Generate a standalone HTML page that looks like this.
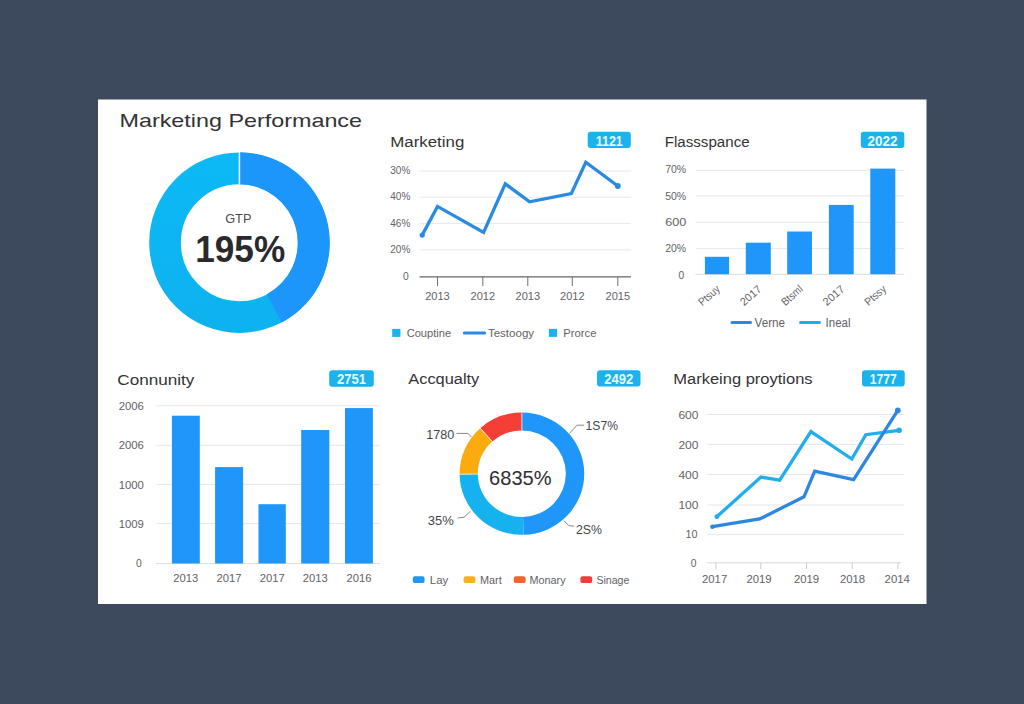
<!DOCTYPE html>
<html><head><meta charset="utf-8"><title>Marketing Performance</title>
<style>
html,body{margin:0;padding:0;background:#3d4a5e;}
body{width:1024px;height:704px;overflow:hidden;position:relative;font-family:"Liberation Sans",sans-serif;}
svg{position:absolute;left:0;top:0;display:block}
text{font-family:"Liberation Sans",sans-serif;}
</style></head><body>
<svg width="1024" height="704" viewBox="0 0 1024 704">
<defs>
<linearGradient id="lb" x1="0" y1="0" x2="0" y2="1"><stop offset="0" stop-color="#0cb9f5"/><stop offset="1" stop-color="#0eb2ef"/></linearGradient>
</defs>
<rect width="1024" height="704" fill="#3d4a5e"/>
<rect x="98" y="99.5" width="828.5" height="504.5" fill="#ffffff"/>

<text x="119.5" y="127" font-size="19" fill="#333336" text-anchor="start" font-weight="normal" textLength="242.5" lengthAdjust="spacingAndGlyphs">Marketing Performance</text>
<circle cx="239.4" cy="242.7" r="74.35" fill="none" stroke="url(#lb)" stroke-width="31.700000000000003"/>
<path d="M239.40 152.35A90.35000000000001 90.35000000000001 0 0 1 281.82 322.47L266.79 294.22A58.35 58.35 0 0 0 239.40 184.35Z" fill="#1d96fb"/>
<rect x="238.6" y="152.0" width="1.6" height="32.7" fill="#d9f6ff"/>
<text x="225.2" y="222.5" font-size="12.5" fill="#4a4a4e" text-anchor="start" font-weight="normal" textLength="26.2" lengthAdjust="spacingAndGlyphs">GTP</text>
<text x="195.2" y="261.6" font-size="36" fill="#2a2a2e" text-anchor="start" font-weight="bold" textLength="90" lengthAdjust="spacingAndGlyphs">195%</text>
<text x="390.3" y="146.8" font-size="14" fill="#333336" text-anchor="start" font-weight="normal" textLength="74" lengthAdjust="spacingAndGlyphs">Marketing</text>
<rect x="587.7" y="131.8" width="43.1" height="16.3" rx="3" fill="#1cb2ec"/><text x="595.75" y="145.6" font-size="14" fill="#e6fbff" text-anchor="start" font-weight="bold" textLength="27" lengthAdjust="spacingAndGlyphs">1121</text>
<line x1="419.6" x2="631" y1="171.1" y2="171.1" stroke="#e6e7eb" stroke-width="1"/>
<line x1="419.6" x2="631" y1="197.2" y2="197.2" stroke="#e6e7eb" stroke-width="1"/>
<line x1="419.6" x2="631" y1="223.6" y2="223.6" stroke="#e6e7eb" stroke-width="1"/>
<line x1="419.6" x2="631" y1="249.9" y2="249.9" stroke="#e6e7eb" stroke-width="1"/>
<line x1="419.6" x2="631" y1="276.9" y2="276.9" stroke="#66666a" stroke-width="1.2"/>
<line x1="437.5" x2="437.5" y1="277" y2="286" stroke="#707074" stroke-width="1"/>
<line x1="482.8" x2="482.8" y1="277" y2="286" stroke="#707074" stroke-width="1"/>
<line x1="527.8" x2="527.8" y1="277" y2="286" stroke="#707074" stroke-width="1"/>
<line x1="572.3" x2="572.3" y1="277" y2="286" stroke="#707074" stroke-width="1"/>
<line x1="617.8" x2="617.8" y1="277" y2="286" stroke="#707074" stroke-width="1"/>
<text x="390.3" y="174.0" font-size="10.2" fill="#626266" text-anchor="start" font-weight="normal" textLength="20" lengthAdjust="spacingAndGlyphs">30%</text>
<text x="390.3" y="200.1" font-size="10.2" fill="#626266" text-anchor="start" font-weight="normal" textLength="20" lengthAdjust="spacingAndGlyphs">40%</text>
<text x="390.3" y="226.5" font-size="10.2" fill="#626266" text-anchor="start" font-weight="normal" textLength="20" lengthAdjust="spacingAndGlyphs">46%</text>
<text x="390.3" y="252.8" font-size="10.2" fill="#626266" text-anchor="start" font-weight="normal" textLength="20" lengthAdjust="spacingAndGlyphs">20%</text>
<text x="403" y="280" font-size="10.3" fill="#626266" text-anchor="start" font-weight="normal">0</text>
<text x="425.2" y="300.1" font-size="10.3" fill="#626266" text-anchor="start" font-weight="normal" textLength="24.6" lengthAdjust="spacingAndGlyphs">2013</text>
<text x="470.5" y="300.1" font-size="10.3" fill="#626266" text-anchor="start" font-weight="normal" textLength="24.6" lengthAdjust="spacingAndGlyphs">2012</text>
<text x="515.5" y="300.1" font-size="10.3" fill="#626266" text-anchor="start" font-weight="normal" textLength="24.6" lengthAdjust="spacingAndGlyphs">2013</text>
<text x="560.0" y="300.1" font-size="10.3" fill="#626266" text-anchor="start" font-weight="normal" textLength="24.6" lengthAdjust="spacingAndGlyphs">2012</text>
<text x="605.5" y="300.1" font-size="10.3" fill="#626266" text-anchor="start" font-weight="normal" textLength="24.6" lengthAdjust="spacingAndGlyphs">2015</text>
<polyline fill="none" stroke="#2a8ae2" stroke-width="3.3" stroke-linejoin="miter" stroke-linecap="round" points="422.2,235.1 437.5,206.4 483.6,232.5 505.3,183.9 529.6,201.8 571.3,193.6 585.8,162.2 617.8,186"/>
<circle cx="422.2" cy="235.1" r="2.6" fill="#2a8ae2"/><circle cx="617.8" cy="186" r="2.9" fill="#2a8ae2"/>
<rect x="392.2" y="328.9" width="8.2" height="8" fill="#1cb2ec"/>
<text x="406.7" y="336.6" font-size="11" fill="#626266" text-anchor="start" font-weight="normal" textLength="44.4" lengthAdjust="spacingAndGlyphs">Couptine</text>
<line x1="464.3" x2="484.6" y1="332.9" y2="332.9" stroke="#2a8ae2" stroke-width="3" stroke-linecap="round"/>
<text x="487.9" y="336.6" font-size="11" fill="#626266" text-anchor="start" font-weight="normal" textLength="46.2" lengthAdjust="spacingAndGlyphs">Testoogy</text>
<rect x="548.9" y="328.9" width="8.2" height="8" fill="#1cb2ec"/>
<text x="563.3" y="336.6" font-size="11" fill="#626266" text-anchor="start" font-weight="normal" textLength="33.1" lengthAdjust="spacingAndGlyphs">Prorce</text>
<text x="664.7" y="146.8" font-size="14" fill="#333336" text-anchor="start" font-weight="normal" textLength="85" lengthAdjust="spacingAndGlyphs">Flassspance</text>
<rect x="860.8" y="131.8" width="43.5" height="16.3" rx="3" fill="#1cb2ec"/><text x="867.55" y="145.6" font-size="14" fill="#e6fbff" text-anchor="start" font-weight="bold" textLength="30" lengthAdjust="spacingAndGlyphs">2022</text>
<line x1="695.4" x2="904.3" y1="170.4" y2="170.4" stroke="#e6e7eb" stroke-width="1"/>
<line x1="695.4" x2="904.3" y1="195.9" y2="195.9" stroke="#e6e7eb" stroke-width="1"/>
<line x1="695.4" x2="904.3" y1="222.3" y2="222.3" stroke="#e6e7eb" stroke-width="1"/>
<line x1="695.4" x2="904.3" y1="248.6" y2="248.6" stroke="#e6e7eb" stroke-width="1"/>
<line x1="695.4" x2="904.3" y1="274.4" y2="274.4" stroke="#dcdde2" stroke-width="1"/>
<text x="665.2" y="173.2" font-size="10.3" fill="#626266" text-anchor="start" font-weight="normal" textLength="21" lengthAdjust="spacingAndGlyphs">70%</text>
<text x="665.2" y="200.0" font-size="10.3" fill="#626266" text-anchor="start" font-weight="normal" textLength="21" lengthAdjust="spacingAndGlyphs">50%</text>
<text x="665.2" y="226.4" font-size="10.3" fill="#626266" text-anchor="start" font-weight="normal" textLength="21" lengthAdjust="spacingAndGlyphs">600</text>
<text x="665.2" y="251.9" font-size="10.3" fill="#626266" text-anchor="start" font-weight="normal" textLength="21" lengthAdjust="spacingAndGlyphs">20%</text>
<text x="678.5" y="278.5" font-size="10.3" fill="#626266" text-anchor="start" font-weight="normal">0</text>
<rect x="704.9" y="256.8" width="24.2" height="17.4" fill="#1e96fa"/>
<rect x="745.8" y="242.7" width="25.0" height="31.5" fill="#1e96fa"/>
<rect x="787.2" y="231.5" width="24.8" height="42.7" fill="#1e96fa"/>
<rect x="828.9" y="204.9" width="24.8" height="69.3" fill="#1e96fa"/>
<rect x="870.3" y="168.6" width="25.0" height="105.6" fill="#1e96fa"/>
<text transform="translate(716.8 285.6) rotate(-41)" x="0" y="6" font-size="11" fill="#626266" text-anchor="end" textLength="24.5" lengthAdjust="spacingAndGlyphs">Ptsuy</text>
<text transform="translate(758.5 285.6) rotate(-41)" x="0" y="6" font-size="11" fill="#626266" text-anchor="end" textLength="24.5" lengthAdjust="spacingAndGlyphs">2017</text>
<text transform="translate(799.7 285.6) rotate(-41)" x="0" y="6" font-size="11" fill="#626266" text-anchor="end" textLength="24.5" lengthAdjust="spacingAndGlyphs">Btsml</text>
<text transform="translate(841.4 285.6) rotate(-41)" x="0" y="6" font-size="11" fill="#626266" text-anchor="end" textLength="24.5" lengthAdjust="spacingAndGlyphs">2017</text>
<text transform="translate(883.0 285.6) rotate(-41)" x="0" y="6" font-size="11" fill="#626266" text-anchor="end" textLength="24.5" lengthAdjust="spacingAndGlyphs">Ptssy</text>
<line x1="732" x2="750.5" y1="322.6" y2="322.6" stroke="#2a8ae2" stroke-width="3" stroke-linecap="round"/>
<text x="754.5" y="326.8" font-size="12" fill="#626266" text-anchor="start" font-weight="normal" textLength="30.5" lengthAdjust="spacingAndGlyphs">Verne</text>
<line x1="800.5" x2="819.5" y1="322.6" y2="322.6" stroke="#1ab0ea" stroke-width="3" stroke-linecap="round"/>
<text x="825.6" y="326.8" font-size="12" fill="#626266" text-anchor="start" font-weight="normal" textLength="25" lengthAdjust="spacingAndGlyphs">Ineal</text>
<text x="117.3" y="384.6" font-size="14" fill="#333336" text-anchor="start" font-weight="normal" textLength="77" lengthAdjust="spacingAndGlyphs">Connunity</text>
<rect x="329.2" y="370.3" width="44.6" height="16.4" rx="3" fill="#1cb2ec"/><text x="337.0" y="384.2" font-size="14" fill="#e6fbff" text-anchor="start" font-weight="bold" textLength="29" lengthAdjust="spacingAndGlyphs">2751</text>
<line x1="156.2" x2="380.2" y1="405.8" y2="405.8" stroke="#e6e7eb" stroke-width="1"/>
<line x1="156.2" x2="380.2" y1="445.3" y2="445.3" stroke="#e6e7eb" stroke-width="1"/>
<line x1="156.2" x2="380.2" y1="484.4" y2="484.4" stroke="#e6e7eb" stroke-width="1"/>
<line x1="156.2" x2="380.2" y1="523.6" y2="523.6" stroke="#e6e7eb" stroke-width="1"/>
<line x1="156.2" x2="380.2" y1="563.6" y2="563.6" stroke="#dcdde2" stroke-width="1"/>
<text x="118.7" y="409.5" font-size="10.3" fill="#626266" text-anchor="start" font-weight="normal" textLength="25.2" lengthAdjust="spacingAndGlyphs">2006</text>
<text x="118.7" y="449.4" font-size="10.3" fill="#626266" text-anchor="start" font-weight="normal" textLength="25.2" lengthAdjust="spacingAndGlyphs">2006</text>
<text x="118.7" y="488.59999999999997" font-size="10.3" fill="#626266" text-anchor="start" font-weight="normal" textLength="25.2" lengthAdjust="spacingAndGlyphs">1000</text>
<text x="118.7" y="527.8000000000001" font-size="10.3" fill="#626266" text-anchor="start" font-weight="normal" textLength="25.2" lengthAdjust="spacingAndGlyphs">1009</text>
<text x="136" y="567" font-size="10.3" fill="#626266" text-anchor="start" font-weight="normal">0</text>
<rect x="171.9" y="415.7" width="27.9" height="147.8" fill="#1e96fa"/>
<rect x="215.1" y="467.1" width="28.0" height="96.4" fill="#1e96fa"/>
<rect x="258.5" y="504.2" width="27.3" height="59.3" fill="#1e96fa"/>
<rect x="301.2" y="430" width="28.1" height="133.5" fill="#1e96fa"/>
<rect x="345" y="408.1" width="27.9" height="155.4" fill="#1e96fa"/>
<text x="173.35000000000002" y="582" font-size="10.3" fill="#626266" text-anchor="start" font-weight="normal" textLength="25" lengthAdjust="spacingAndGlyphs">2013</text>
<text x="216.6" y="582" font-size="10.3" fill="#626266" text-anchor="start" font-weight="normal" textLength="25" lengthAdjust="spacingAndGlyphs">2017</text>
<text x="259.65" y="582" font-size="10.3" fill="#626266" text-anchor="start" font-weight="normal" textLength="25" lengthAdjust="spacingAndGlyphs">2017</text>
<text x="302.75" y="582" font-size="10.3" fill="#626266" text-anchor="start" font-weight="normal" textLength="25" lengthAdjust="spacingAndGlyphs">2013</text>
<text x="346.45" y="582" font-size="10.3" fill="#626266" text-anchor="start" font-weight="normal" textLength="25" lengthAdjust="spacingAndGlyphs">2016</text>
<text x="408.3" y="384.4" font-size="14" fill="#333336" text-anchor="start" font-weight="normal" textLength="71" lengthAdjust="spacingAndGlyphs">Accqualty</text>
<rect x="597" y="370.2" width="43.5" height="16.2" rx="3" fill="#1cb2ec"/><text x="604.25" y="383.9" font-size="14" fill="#e6fbff" text-anchor="start" font-weight="bold" textLength="29" lengthAdjust="spacingAndGlyphs">2492</text>
<g transform="translate(521.9 473.7) scale(1 0.981) translate(-521.9 -473.7)">
<path d="M521.90 411.40A62.3 62.3 0 0 1 523.53 535.98L523.05 517.78A44.1 44.1 0 0 0 521.90 429.60Z" fill="#1e96fa"/>
<path d="M523.53 535.98A62.3 62.3 0 0 1 459.60 474.24L477.80 474.08A44.1 44.1 0 0 0 523.05 517.78Z" fill="#16b2f0"/>
<path d="M459.60 474.24A62.3 62.3 0 0 1 480.21 427.40L492.39 440.93A44.1 44.1 0 0 0 477.80 474.08Z" fill="#fbab0e"/>
<path d="M480.21 427.40A62.3 62.3 0 0 1 521.90 411.40L521.90 429.60A44.1 44.1 0 0 0 492.39 440.93Z" fill="#f43f36"/>
<line x1="521.90" y1="430.10" x2="521.90" y2="410.90" stroke="#ffd9d6" stroke-width="0.9"/>
<line x1="492.73" y1="441.30" x2="479.88" y2="427.03" stroke="#ffe9c8" stroke-width="1"/>
<line x1="478.30" y1="474.08" x2="459.10" y2="474.25" stroke="#e9f3c8" stroke-width="0.9"/>
</g>
<text x="489.1" y="484.8" font-size="20.5" fill="#2e2e32" text-anchor="start" font-weight="normal" textLength="62.4" lengthAdjust="spacingAndGlyphs">6835%</text>
<polyline fill="none" stroke="#7a7a7e" stroke-width="0.9" points="456.4,433.4 467.9,433.4 471.4,437"/>
<polyline fill="none" stroke="#7a7a7e" stroke-width="0.9" points="584.2,425.2 577,425.2 569.4,433.4"/>
<polyline fill="none" stroke="#7a7a7e" stroke-width="0.9" points="457.6,518 464,517.2 470.4,511.4"/>
<polyline fill="none" stroke="#7a7a7e" stroke-width="0.9" points="574,526.2 568.9,525.7 563.8,520.6"/>
<text x="426.2" y="438.8" font-size="13" fill="#444448" text-anchor="start" font-weight="normal" textLength="28" lengthAdjust="spacingAndGlyphs">1780</text>
<text x="585.5" y="429.8" font-size="13" fill="#444448" text-anchor="start" font-weight="normal" textLength="32.5" lengthAdjust="spacingAndGlyphs">1S7%</text>
<text x="427.7" y="525.2" font-size="13" fill="#444448" text-anchor="start" font-weight="normal" textLength="26" lengthAdjust="spacingAndGlyphs">35%</text>
<text x="576" y="533.9" font-size="13" fill="#444448" text-anchor="start" font-weight="normal" textLength="26" lengthAdjust="spacingAndGlyphs">2S%</text>
<rect x="412.8" y="576.3" width="11.8" height="6.8" rx="2.2" fill="#2196f3"/>
<rect x="463.6" y="576.3" width="11.8" height="6.8" rx="2.2" fill="#fbb11c"/>
<rect x="513.8" y="576.3" width="11.8" height="6.8" rx="2.2" fill="#f4652a"/>
<rect x="580.4" y="576.3" width="11.8" height="6.8" rx="2.2" fill="#f03c3c"/>
<text x="429.8" y="583.6" font-size="11" fill="#626266" text-anchor="start" font-weight="normal" textLength="18.5" lengthAdjust="spacingAndGlyphs">Lay</text>
<text x="480" y="583.6" font-size="11" fill="#626266" text-anchor="start" font-weight="normal" textLength="21.7" lengthAdjust="spacingAndGlyphs">Mart</text>
<text x="529.6" y="583.6" font-size="11" fill="#626266" text-anchor="start" font-weight="normal" textLength="36" lengthAdjust="spacingAndGlyphs">Monary</text>
<text x="596.4" y="583.6" font-size="11" fill="#626266" text-anchor="start" font-weight="normal" textLength="33" lengthAdjust="spacingAndGlyphs">Sinage</text>
<text x="673.3" y="384.4" font-size="14" fill="#333336" text-anchor="start" font-weight="normal" textLength="139.3" lengthAdjust="spacingAndGlyphs">Markeing proytions</text>
<rect x="862" y="370.2" width="42.7" height="16.2" rx="3" fill="#1cb2ec"/><text x="869.85" y="383.9" font-size="14" fill="#e6fbff" text-anchor="start" font-weight="bold" textLength="27" lengthAdjust="spacingAndGlyphs">1777</text>
<line x1="707.3" x2="904.2" y1="414.5" y2="414.5" stroke="#e6e7eb" stroke-width="1"/>
<line x1="707.3" x2="904.2" y1="444.4" y2="444.4" stroke="#e6e7eb" stroke-width="1"/>
<line x1="707.3" x2="904.2" y1="474.5" y2="474.5" stroke="#e6e7eb" stroke-width="1"/>
<line x1="707.3" x2="904.2" y1="505" y2="505" stroke="#e6e7eb" stroke-width="1"/>
<line x1="707.3" x2="904.2" y1="534.4" y2="534.4" stroke="#e6e7eb" stroke-width="1"/>
<line x1="707.3" x2="901" y1="562.8" y2="562.8" stroke="#d6d7dc" stroke-width="1"/>
<line x1="715.9" x2="715.9" y1="562.8" y2="569" stroke="#c9cad0" stroke-width="1"/>
<line x1="760.8" x2="760.8" y1="562.8" y2="569" stroke="#c9cad0" stroke-width="1"/>
<line x1="806.5" x2="806.5" y1="562.8" y2="569" stroke="#c9cad0" stroke-width="1"/>
<line x1="852.2" x2="852.2" y1="562.8" y2="569" stroke="#c9cad0" stroke-width="1"/>
<line x1="897.9" x2="897.9" y1="562.8" y2="569" stroke="#c9cad0" stroke-width="1"/>
<text x="678.4" y="418.7" font-size="10.3" fill="#626266" text-anchor="start" font-weight="normal" textLength="20" lengthAdjust="spacingAndGlyphs">600</text>
<text x="678.4" y="448.59999999999997" font-size="10.3" fill="#626266" text-anchor="start" font-weight="normal" textLength="20" lengthAdjust="spacingAndGlyphs">200</text>
<text x="678.4" y="478.5" font-size="10.3" fill="#626266" text-anchor="start" font-weight="normal" textLength="20" lengthAdjust="spacingAndGlyphs">400</text>
<text x="678.4" y="508.7" font-size="10.3" fill="#626266" text-anchor="start" font-weight="normal" textLength="20" lengthAdjust="spacingAndGlyphs">100</text>
<text x="685.6" y="537.7" font-size="10.3" fill="#626266" text-anchor="start" font-weight="normal" textLength="12" lengthAdjust="spacingAndGlyphs">10</text>
<text x="690.8" y="566.6" font-size="10.3" fill="#626266" text-anchor="start" font-weight="normal">0</text>
<text x="702.0" y="583" font-size="10.3" fill="#626266" text-anchor="start" font-weight="normal" textLength="25.2" lengthAdjust="spacingAndGlyphs">2017</text>
<text x="746.4" y="583" font-size="10.3" fill="#626266" text-anchor="start" font-weight="normal" textLength="25.2" lengthAdjust="spacingAndGlyphs">2019</text>
<text x="793.9" y="583" font-size="10.3" fill="#626266" text-anchor="start" font-weight="normal" textLength="25.2" lengthAdjust="spacingAndGlyphs">2019</text>
<text x="839.9" y="583" font-size="10.3" fill="#626266" text-anchor="start" font-weight="normal" textLength="25.2" lengthAdjust="spacingAndGlyphs">2018</text>
<text x="884.6" y="583" font-size="10.3" fill="#626266" text-anchor="start" font-weight="normal" textLength="25.2" lengthAdjust="spacingAndGlyphs">2014</text>
<polyline fill="none" stroke="#22aeeb" stroke-width="3.3" stroke-linejoin="miter" stroke-linecap="round" points="716.8,516.7 761,477.1 779.7,480.2 810.9,431.6 851.8,459 865.8,434.7 899.1,430.3"/>
<polyline fill="none" stroke="#2d87e0" stroke-width="3.3" stroke-linejoin="miter" stroke-linecap="round" points="712.4,526.7 759.7,519 804,496.8 814.7,471.2 853.6,479.7 897.8,410.4"/>
<circle cx="716.8" cy="516.7" r="2.4" fill="#22aeeb"/><circle cx="899.1" cy="430.3" r="2.8" fill="#22aeeb"/>
<circle cx="712.4" cy="526.7" r="2.2" fill="#2d87e0"/><circle cx="897.8" cy="410.4" r="2.8" fill="#2d87e0"/>
</svg></body></html>
